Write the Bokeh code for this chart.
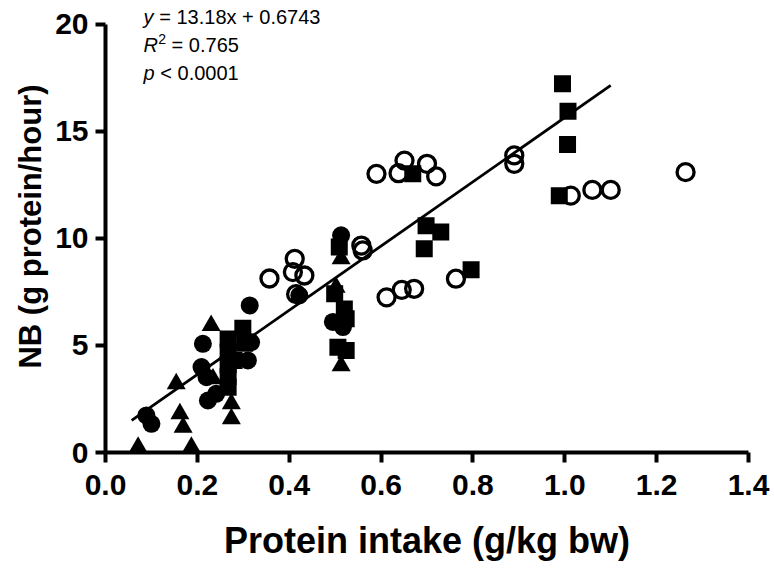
from bokeh.plotting import figure
from bokeh.models import Range1d, Label, FixedTicker, PrintfTickFormatter
from bokeh.embed import file_html
from bokeh.resources import INLINE

# Filled circles
circ_x = [0.089, 0.100, 0.212, 0.209, 0.220, 0.223, 0.241, 0.310, 0.314, 0.317, 0.422, 0.495, 0.517, 0.513]
circ_y = [1.73, 1.34, 5.08, 3.99, 3.52, 2.43, 2.74, 4.30, 6.87, 5.15, 7.34, 6.10, 5.86, 10.15]

# Filled triangles
tri_x = [0.071, 0.187, 0.154, 0.162, 0.169, 0.230, 0.234, 0.274, 0.274, 0.502, 0.513, 0.513]
tri_y = [0.25, 0.25, 3.21, 1.81, 1.18, 5.93, 3.44, 2.28, 1.58, 7.72, 9.05, 4.05]

# Filled squares
sq_x = [0.267, 0.267, 0.267, 0.267, 0.267, 0.280, 0.299, 0.303, 0.499, 0.509, 0.520, 0.524, 0.506, 0.524,
        0.669, 0.698, 0.730, 0.694, 0.796, 0.995, 1.007, 1.006, 0.988]
sq_y = [5.30, 4.70, 4.10, 3.55, 3.05, 4.30, 5.80, 5.10, 7.42, 9.60, 6.71, 6.25, 4.92, 4.77,
        13.02, 10.60, 10.30, 9.52, 8.54, 17.23, 15.95, 14.39, 12.00]

# Open circles
open_x = [0.357, 0.412, 0.408, 0.433, 0.415, 0.557, 0.560, 0.590, 0.638, 0.651, 0.700, 0.720,
          0.612, 0.645, 0.672, 0.763, 0.890, 0.890, 1.013, 1.060, 1.100, 1.263]
open_y = [8.13, 9.05, 8.43, 8.27, 7.40, 9.67, 9.44, 13.02, 13.05, 13.64, 13.49, 12.90,
          7.25, 7.60, 7.65, 8.12, 13.88, 13.49, 12.00, 12.27, 12.27, 13.10]

# Regression line as drawn
fit_x = [0.057, 1.100]
fit_y = [1.50, 17.15]

x_ticks = [0.0, 0.2, 0.4, 0.6, 0.8, 1.0, 1.2, 1.4]
y_ticks = [0, 5, 10, 15, 20]

FONT = "Liberation Sans"

p = figure(width=770, height=566, output_backend="svg", toolbar_location=None,
           x_range=Range1d(0, 1.4), y_range=Range1d(0, 21.12),
           min_border_left=105, min_border_right=22, min_border_top=0, min_border_bottom=114)
p.outline_line_color = None
p.xgrid.visible = False
p.ygrid.visible = False
p.background_fill_color = "white"

for ax in (p.xaxis[0], p.yaxis[0]):
    ax.axis_line_width = 4
    ax.axis_line_color = "black"
    ax.major_tick_line_width = 4
    ax.major_tick_line_color = "black"
    ax.major_tick_out = 10
    ax.major_tick_in = 0
    ax.minor_tick_line_color = None
    ax.major_label_text_font = FONT
    ax.major_label_text_font_style = "bold"
    ax.major_label_text_font_size = "30px"
    ax.major_label_text_color = "black"
    ax.axis_label_text_font = FONT
    ax.axis_label_text_font_style = "bold"
    ax.axis_label_text_color = "black"

p.xaxis.axis_label_text_font_size = "36px"
p.yaxis.axis_label_text_font_size = "31px"
p.xaxis.ticker = FixedTicker(ticks=x_ticks)
p.xaxis.formatter = PrintfTickFormatter(format="%.1f")
p.yaxis.ticker = FixedTicker(ticks=y_ticks)
p.yaxis.bounds = (0, 20)
p.xaxis.axis_label = "Protein intake (g/kg bw)"
p.yaxis.axis_label = "NB (g protein/hour)"
p.xaxis.major_label_standoff = 12
p.yaxis.major_label_standoff = 7
p.xaxis.axis_label_standoff = 22
p.yaxis.axis_label_standoff = 4

p.line(fit_x, fit_y, line_width=2.8, line_color="black")

p.scatter(open_x, open_y, marker="circle", size=17, fill_color=None, line_color="black", line_width=3.3)
p.scatter(sq_x, sq_y, marker="square", size=17, fill_color="black", line_color="black", line_width=0)
p.scatter(tri_x, tri_y, marker="triangle", size=19, fill_color="black", line_color="black", line_width=0)
p.scatter(circ_x, circ_y, marker="circle", size=18, fill_color="black", line_color="black", line_width=0)

# Equation annotation
lx = 0.083
fs = "20px"
common = dict(text_font=FONT, text_font_size=fs, text_baseline="middle", text_color="black")
p.add_layout(Label(x=lx, y=20.33, text="y", text_font_style="italic", **common))
p.add_layout(Label(x=lx, y=20.33, x_offset=15.6, text="= 13.18x + 0.6743", **common))
p.add_layout(Label(x=lx, y=19.02, text="R", text_font_style="italic", **common))
p.add_layout(Label(x=lx, y=19.02, x_offset=14.6, y_offset=6, text="2", text_font=FONT,
                   text_font_size="14px", text_baseline="middle", text_color="black"))
p.add_layout(Label(x=lx, y=19.02, x_offset=28.0, text="= 0.765", **common))
p.add_layout(Label(x=lx, y=17.71, text="p", text_font_style="italic", **common))
p.add_layout(Label(x=lx, y=17.71, x_offset=16.7, text="< 0.0001", **common))

open("out.html", "w").write(file_html(p, INLINE))
